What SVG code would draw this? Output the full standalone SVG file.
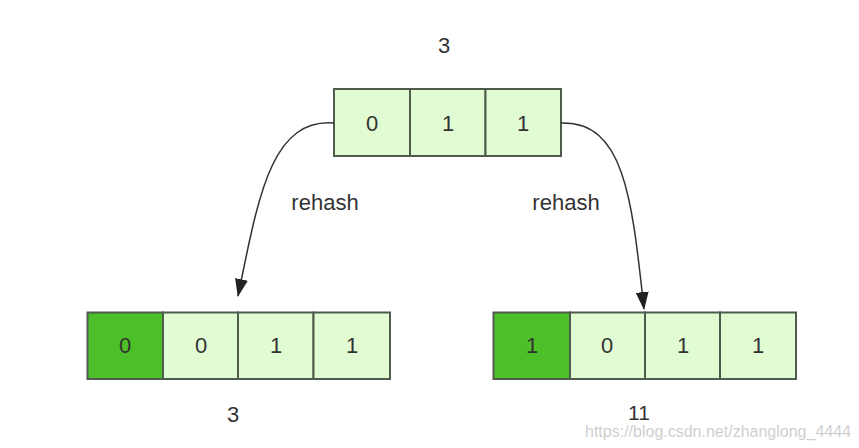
<svg xmlns="http://www.w3.org/2000/svg" width="859" height="448" viewBox="0 0 859 448">
<style>
.cell{fill:#e1fcd2;stroke:#4f5b4c;stroke-width:2}
.dark{fill:#4dbf28;stroke:#4f5b4c;stroke-width:2}
.t{font-family:"Liberation Sans",Arial,sans-serif;font-size:22px;fill:#333;text-anchor:middle}
.edge{fill:none;stroke:#333;stroke-width:1.5}
.wm{font-family:"Liberation Sans",Arial,sans-serif;font-size:16px;fill:#cfcfcf}
</style>
<defs>
<marker id="ah" markerWidth="18" markerHeight="13" viewBox="0 0 18 13" refX="17" refY="6.5" orient="auto" markerUnits="userSpaceOnUse">
<path d="M0,0 L18,6.5 L0,13 Z" fill="#222"/>
</marker>
</defs>
<rect width="859" height="448" fill="#fff"/>
<g id="top">
<text class="t" x="444" y="53">3</text>
<rect class="cell" x="334" y="89" width="76" height="67"/>
<rect class="cell" x="410" y="89" width="75.5" height="67"/>
<rect class="cell" x="485.5" y="89" width="75.5" height="67"/>
<text class="t" x="372" y="131">0</text>
<text class="t" x="448" y="131">1</text>
<text class="t" x="523" y="131">1</text>
</g>
<g id="left">
<rect class="dark" x="87.5" y="312.5" width="75.5" height="66.5"/>
<rect class="cell" x="163" y="312.5" width="75" height="66.5"/>
<rect class="cell" x="238" y="312.5" width="75.5" height="66.5"/>
<rect class="cell" x="313.5" y="312.5" width="76.5" height="66.5"/>
<text class="t" x="125" y="353">0</text>
<text class="t" x="201" y="353">0</text>
<text class="t" x="276" y="353">1</text>
<text class="t" x="352" y="353">1</text>
<text class="t" x="233" y="422">3</text>
</g>
<g id="right">
<rect class="dark" x="493.5" y="312.5" width="76.5" height="66.5"/>
<rect class="cell" x="570" y="312.5" width="75" height="66.5"/>
<rect class="cell" x="645" y="312.5" width="75" height="66.5"/>
<rect class="cell" x="720" y="312.5" width="76" height="66.5"/>
<text class="t" x="532" y="353">1</text>
<text class="t" x="607" y="353">0</text>
<text class="t" x="683" y="353">1</text>
<text class="t" x="758" y="353">1</text>
<text class="t" x="639" y="420" style="font-size:21px">11</text>
</g>
<g id="connectors">
<path class="edge" d="M334,123 C270,118 258,200 238,296" marker-end="url(#ah)"/>
<path class="edge" d="M561,123 C625,121 632,200 644,309" marker-end="url(#ah)"/>
<text class="t" x="325" y="210">rehash</text>
<text class="t" x="566" y="210">rehash</text>
</g>
<text class="wm" x="585" y="437">https://blog.csdn.net/zhanglong_4444</text>
</svg>
